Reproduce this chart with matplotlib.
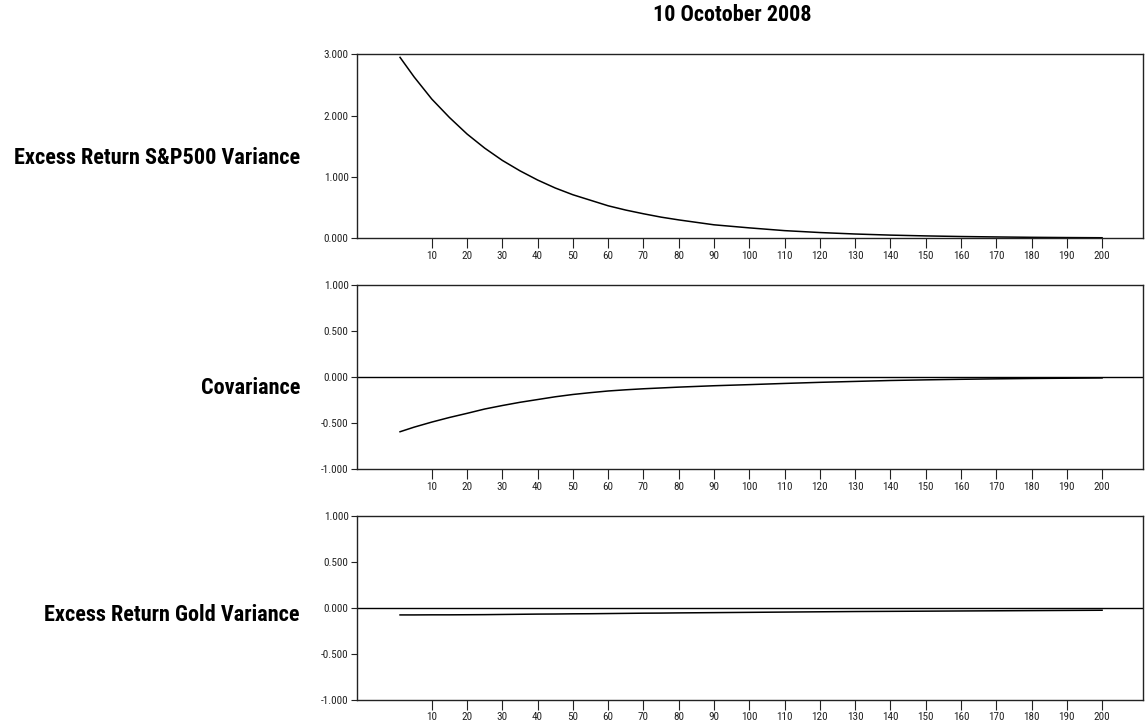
import os
import matplotlib
matplotlib.use('Agg')
import matplotlib.pyplot as plt
from matplotlib import font_manager as fm

# horizon (periods)
steps = [1, 5, 10, 15, 20, 25, 30, 35, 40, 45, 50, 55, 60, 65,
         70, 75, 80, 90, 100, 110, 120, 130, 140, 150, 160, 170, 180, 190, 200]

# values
sp500_var = [2.95, 2.63, 2.27, 1.97, 1.70, 1.47, 1.27, 1.10, 0.95, 0.82, 0.71, 0.62, 0.53, 0.46,
             0.40, 0.345, 0.30, 0.22, 0.17, 0.125, 0.094, 0.070, 0.052, 0.039, 0.029, 0.022, 0.016, 0.012, 0.009]
covariance = [-0.595, -0.545, -0.49, -0.44, -0.395, -0.348, -0.31, -0.275, -0.245, -0.215, -0.19, -0.17, -0.152, -0.139,
              -0.128, -0.119, -0.11, -0.095, -0.083, -0.07, -0.058, -0.048, -0.038, -0.031, -0.025, -0.02, -0.016, -0.013, -0.01]
gold_var = [-0.077, -0.077, -0.076, -0.076, -0.075, -0.074, -0.072, -0.070, -0.068, -0.067, -0.065, -0.064, -0.062, -0.060,
            -0.058, -0.057, -0.055, -0.052, -0.049, -0.046, -0.043, -0.040, -0.038, -0.036, -0.034, -0.032, -0.030, -0.028, -0.026]

panel_names = ['Excess Return S&P500 Variance', 'Covariance', 'Excess Return Gold Variance']
panel_series = [sp500_var, covariance, gold_var]
panel_ylims = [(0, 3), (-1, 1), (-1, 1)]
panel_yticks = [[0, 1, 2, 3], [-1, -0.5, 0, 0.5, 1], [-1, -0.5, 0, 0.5, 1]]
x_ticks = list(range(10, 201, 10))
title = '10 Ocotober 2008'


def pick_narrow(bold):
    # the reference uses an Arial Narrow-like face; find the closest condensed font installed
    prefs = ['liberation sans narrow', 'liberationsansnarrow', 'arial narrow', 'roboto condensed',
             'robotocondensed', 'notosans-condensed', 'open sans condensed', 'opensans-cond',
             'dejavusanscondensed']
    best, best_score = None, None
    for f in fm.fontManager.ttflist:
        fn = os.path.basename(f.fname).lower()
        key = (f.name + ' ' + fn).lower()
        narrow = ('narrow' in key or 'cond' in key or
                  str(f.stretch) in ('condensed', 'semi-condensed', 'extra-condensed'))
        if not narrow or 'italic' in fn or 'oblique' in fn:
            continue
        try:
            w = int(f.weight)
        except ValueError:
            w = 700 if 'bold' in str(f.weight) else 400
        is_bold = w >= 600 or 'bold' in fn
        if 'light' in fn or 'thin' in fn or 'black' in fn or 'extra' in fn or 'semi' in fn:
            continue
        rank = len(prefs)
        for i, p in enumerate(prefs):
            if p in key:
                rank = i
                break
        score = rank * 2 + (0 if is_bold == bold else 1)
        if best_score is None or score < best_score:
            best, best_score = f.fname, score
    return best


bold_path = pick_narrow(True)
reg_path = pick_narrow(False)


def fprops(path, size, bold):
    if path:
        return fm.FontProperties(fname=path, size=size)
    return fm.FontProperties(family='Liberation Sans', weight='bold' if bold else 'normal', size=size)


W, H = 1147, 726
fig = plt.figure(figsize=(W / 100, H / 100), dpi=100)

# (top, bottom) pixel rows of each panel
rows = [(54.3, 238.3), (285, 469), (516, 699.7)]
left, right = 357, 1143
label_rows = [158, 388, 615]

axes = []
for i, ys in enumerate(panel_series):
    top, bot = rows[i]
    ax = fig.add_axes([left / W, 1 - bot / H, (right - left) / W, (bot - top) / H])
    ax.plot(steps, ys, color='black', lw=1.1)
    if panel_ylims[i][0] < 0:
        ax.axhline(0, color='black', lw=1.0)
    ax.set_xlim(-11.2, 211.6)
    ax.set_ylim(*panel_ylims[i])
    ax.set_xticks(x_ticks)
    ax.set_yticks(panel_yticks[i])
    ax.tick_params(axis='x', direction='out', length=7, width=0.8, pad=2, colors='#222222')
    ax.tick_params(axis='y', direction='out', length=4, width=0.8, pad=2, colors='#222222')
    for sp in ax.spines.values():
        sp.set_linewidth(1.0)
        sp.set_color('#222222')
    axes.append(ax)

labels = [fig.text(300 / W, 1 - label_rows[i] / H, name, ha='right', va='center',
                   fontproperties=fprops(bold_path, 14, True))
          for i, name in enumerate(panel_names)]
ttl = fig.text(732 / W, 1 - 15 / H, title, ha='center', va='center',
               fontproperties=fprops(bold_path, 13, True))

# size the texts so their widths match the reference
fig.canvas.draw()
r = fig.canvas.get_renderer()
w_lab = labels[0].get_window_extent(r).width
lab_size = 14 * 288.0 / w_lab
for t in labels:
    t.set_fontproperties(fprops(bold_path, lab_size, True))
w_ttl = ttl.get_window_extent(r).width
ttl.set_fontproperties(fprops(bold_path, 13 * 158.0 / w_ttl, True))

probe = fig.text(0, 0, '0.000', fontproperties=fprops(reg_path, 8, False))
w_probe = probe.get_window_extent(r).width
probe.remove()
tick_size = 8 * 25.0 / w_probe

for i, ax in enumerate(axes):
    ax.set_xticklabels([str(t) for t in x_ticks], fontproperties=fprops(reg_path, tick_size, False))
    ax.set_yticklabels([f'{v:.3f}' for v in panel_yticks[i]], fontproperties=fprops(reg_path, tick_size, False))

fig.savefig('out.png', dpi=100)
